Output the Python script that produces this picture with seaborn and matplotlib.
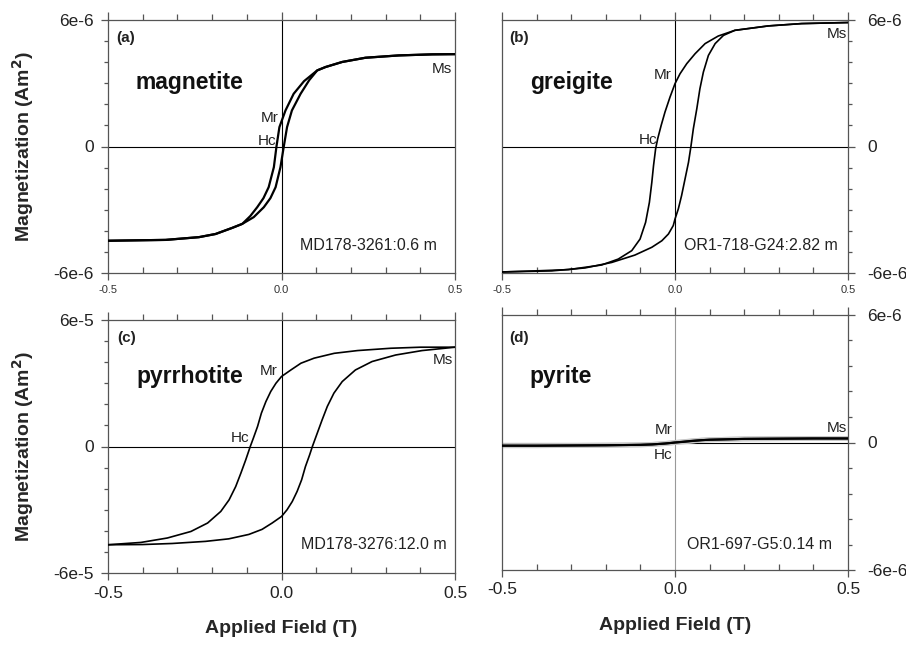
import numpy as np
import pandas as pd
import matplotlib
matplotlib.use("Agg")
import matplotlib.pyplot as plt
from matplotlib.ticker import MultipleLocator, FixedLocator
import seaborn as sns

# ---------------- data ----------------
# (a) magnetite, M in units of 1e-6 Am2
H_a_desc = [0.5, 0.434, 0.338, 0.242, 0.175, 0.127, 0.103, 0.065, 0.035, 0.0115, -0.006,
            -0.0145, -0.022, -0.037, -0.052, -0.07, -0.09, -0.113, -0.142, -0.19, -0.238,
            -0.334, -0.5]
M_a_desc = [4.38, 4.37, 4.32, 4.21, 4.01, 3.77, 3.61, 3.1, 2.5, 1.71, 0.92,
            0.0, -0.98, -1.93, -2.45, -2.88, -3.3, -3.67, -3.86, -4.15, -4.3,
            -4.43, -4.47]
H_a_asc = [-0.5, -0.334, -0.238, -0.19, -0.142, -0.113, -0.08, -0.051, -0.032, -0.017,
           -0.003, 0.0066, 0.016, 0.03, 0.055, 0.08, 0.103, 0.127, 0.175, 0.242, 0.338,
           0.434, 0.5]
M_a_asc = [-4.47, -4.43, -4.3, -4.15, -3.86, -3.67, -3.35, -2.88, -2.45, -1.93,
           -0.98, 0.0, 0.92, 1.71, 2.5, 3.15, 3.61, 3.77, 4.01, 4.21, 4.32,
           4.37, 4.38]

# (b) greigite, M in units of 1e-6 Am2
H_b_desc = [0.5, 0.366, 0.27, 0.173, 0.125, 0.087, 0.058, 0.034, 0.0145, 0.0, -0.0145,
            -0.029, -0.04, -0.05, -0.056, -0.062, -0.067, -0.074, -0.085, -0.101, -0.125,
            -0.164, -0.212, -0.308, -0.404, -0.5]
M_b_desc = [5.88, 5.83, 5.72, 5.51, 5.24, 4.88, 4.40, 3.93, 3.45, 2.98, 2.34,
            1.63, 1.0, 0.37, -0.11, -0.9, -1.7, -2.65, -3.6, -4.39, -4.94,
            -5.34, -5.62, -5.84, -5.9, -5.95]
H_b_asc = [-0.5, -0.356, -0.26, -0.183, -0.116, -0.067, -0.038, -0.019, -0.005, 0.0,
           0.0096, 0.019, 0.029, 0.039, 0.046, 0.053, 0.063, 0.072, 0.082, 0.0965, 0.116,
           0.14, 0.173, 0.27, 0.366, 0.5]
M_b_asc = [-5.95, -5.9, -5.76, -5.5, -5.15, -4.78, -4.47, -4.15, -3.75, -3.44,
           -2.96, -2.33, -1.54, -0.75, 0.0, 0.84, 1.79, 2.74, 3.53, 4.32, 4.88,
           5.27, 5.51, 5.72, 5.83, 5.88]

# (c) pyrrhotite, M in units of 1e-5 Am2
H_c_desc = [0.5, 0.401, 0.315, 0.219, 0.152, 0.094, 0.056, 0.027, 0.0, -0.016, -0.031,
            -0.045, -0.058, -0.069, -0.081, -0.09, -0.103, -0.117, -0.132, -0.151, -0.175,
            -0.213, -0.261, -0.329, -0.405, -0.5]
M_c_desc = [4.71, 4.71, 4.66, 4.55, 4.42, 4.19, 3.95, 3.63, 3.32, 3.0, 2.61,
            2.13, 1.58, 0.95, 0.40, 0.0, -0.63, -1.26, -1.9, -2.53, -3.08,
            -3.63, -4.03, -4.34, -4.55, -4.66]
H_c_asc = [-0.5, -0.401, -0.315, -0.219, -0.152, -0.094, -0.056, -0.027, 0.0, 0.016, 0.031,
           0.045, 0.058, 0.069, 0.081, 0.089, 0.103, 0.117, 0.132, 0.151, 0.175,
           0.213, 0.261, 0.329, 0.405, 0.5]
M_c_asc = [-4.66, -4.65, -4.6, -4.5, -4.38, -4.17, -3.93, -3.63, -3.32, -3.0, -2.61,
           -2.13, -1.58, -0.95, -0.40, 0.0, 0.63, 1.26, 1.9, 2.53, 3.08,
           3.63, 4.03, 4.34, 4.55, 4.71]

# (d) pyrite, M in units of 1e-6 Am2
H_d_desc = [0.5, 0.4, 0.3, 0.2, 0.15, 0.1, 0.077, 0.05, 0.025, 0.0, -0.03, -0.066, -0.1,
            -0.2, -0.3, -0.4, -0.5]
M_d_desc = [0.19, 0.19, 0.18, 0.17, 0.15, 0.13, 0.11, 0.07, 0.03, 0.0, -0.05, -0.09, -0.11,
            -0.13, -0.14, -0.15, -0.15]
H_d_asc = [-0.5, -0.4, -0.3, -0.2, -0.1, -0.066, -0.03, -0.01, 0.0, 0.025, 0.05, 0.077, 0.1,
           0.15, 0.2, 0.3, 0.4, 0.5]
M_d_asc = [-0.15, -0.15, -0.14, -0.13, -0.11, -0.09, -0.05, -0.02, 0.0, 0.04, 0.08, 0.11, 0.13,
           0.15, 0.17, 0.18, 0.19, 0.19]

panel_letters = ["(a)", "(b)", "(c)", "(d)"]
minerals = ["magnetite", "greigite", "pyrrhotite", "pyrite"]
sample_ids = ["MD178-3261:0.6 m", "OR1-718-G24:2.82 m", "MD178-3276:12.0 m", "OR1-697-G5:0.14 m"]
units = [1e-6, 1e-6, 1e-5, 1e-6]
ytick_labels = [["-6e-6", "0", "6e-6"], ["-6e-6", "0", "6e-6"],
                ["-6e-5", "0", "6e-5"], ["-6e-6", "0", "6e-6"]]
xtick_labels = ["-0.5", "0.0", "0.5"]

# ---------------- style ----------------
sns.set_theme(style="ticks")
plt.rcParams["font.family"] = ["Liberation Sans", "DejaVu Sans"]
plt.rcParams["axes.linewidth"] = 0.9
plt.rcParams["axes.edgecolor"] = "#555555"
plt.rcParams["xtick.color"] = "#555555"
plt.rcParams["ytick.color"] = "#555555"
plt.rcParams["lines.solid_joinstyle"] = "round"

fig = plt.figure(figsize=(9.06, 6.45), dpi=100)
rects = [
    [108 / 906, 1 - 273 / 645, 347 / 906, 253 / 645],
    [502 / 906, 1 - 273 / 645, 346 / 906, 253 / 645],
    [108 / 906, 1 - 573 / 645, 347 / 906, 253 / 645],
    [502 / 906, 1 - 570 / 645, 346 / 906, 255 / 645],
]

branches = [
    (H_a_desc, M_a_desc, H_a_asc, M_a_asc),
    (H_b_desc, M_b_desc, H_b_asc, M_b_asc),
    (H_c_desc, M_c_desc, H_c_asc, M_c_asc),
    (H_d_desc, M_d_desc, H_d_asc, M_d_asc),
]

# label positions (data units: H, M/unit)
txt = {
    0: dict(letter=(-0.475, 5.13), name=(-0.42, 3.04), mr=(-0.008, 1.33), hc=(-0.014, 0.24),
            ms=(0.49, 3.66), sid=(0.447, -4.7)),
    1: dict(letter=(-0.478, 5.13), name=(-0.42, 3.04), mr=(-0.01, 3.37), hc=(-0.05, 0.33),
            ms=(0.496, 5.32), sid=(0.47, -4.7)),
    2: dict(letter=(-0.473, 5.15), name=(-0.418, 3.3), mr=(-0.012, 3.59), hc=(-0.092, 0.41),
            ms=(0.493, 4.11), sid=(0.476, -4.66)),
    3: dict(letter=(-0.478, 4.93), name=(-0.42, 3.09), mr=(-0.007, 0.6), hc=(-0.007, -0.58),
            ms=(0.496, 0.69), sid=(0.455, -4.81)),
}

lw_curve = [1.6, 1.2, 1.2, 1.5]

for i in range(4):
    ax = fig.add_axes(rects[i])
    u = units[i]
    Hd, Md, Ha, Ma = branches[i]
    df = pd.DataFrame({
        "H": list(Hd) + list(Ha),
        "M": [m * u for m in Md] + [m * u for m in Ma],
        "branch": ["desc"] * len(Hd) + ["asc"] * len(Ha),
    })
    ax.axhline(0, color="black", lw=0.8, zorder=1)
    ax.axvline(0, color="#999999" if i == 3 else "black", lw=0.8, zorder=1)
    if i == 3:
        sns.lineplot(data=df, x="H", y="M", units="branch", estimator=None, sort=False,
                     color="#c8c8c8", lw=3.5, ax=ax, zorder=2)
    sns.lineplot(data=df, x="H", y="M", units="branch", estimator=None, sort=False,
                 color="black", lw=lw_curve[i], ax=ax, zorder=3)

    ax.set_xlim(-0.5, 0.5)
    ax.set_ylim(-6 * u, 6 * u)
    ax.set_xlabel("")
    ax.set_ylabel("")

    # x ticks
    ax.set_xticks([-0.5, 0.0, 0.5])
    ax.xaxis.set_minor_locator(MultipleLocator(0.1))
    if i < 2:
        ax.set_xticklabels(xtick_labels, fontsize=8, color="#333333")
    else:
        ax.set_xticklabels(xtick_labels, fontsize=12.5, color="#222222")
    ax.tick_params(axis="x", which="major", direction="out", length=5, width=0.9, pad=4)
    ax.tick_params(axis="x", which="minor", direction="in", length=4, width=0.9)
    sec = ax.secondary_xaxis("top")
    sec.set_xticks([-0.5, 0.0, 0.5])
    sec.xaxis.set_minor_locator(MultipleLocator(0.1))
    sec.tick_params(which="major", direction="out", length=6, width=0.9, labeltop=False)
    sec.tick_params(which="minor", direction="out", length=4, width=0.9)
    sec.set_xticklabels([])
    sec.spines["top"].set_visible(False)

    # y ticks
    ax.set_yticks([-6 * u, 0, 6 * u])
    ax.set_yticklabels(ytick_labels[i], fontsize=12.5, color="#222222")
    step = 1.2 * u if i == 3 else 1.0 * u
    ax.yaxis.set_minor_locator(FixedLocator(np.arange(-6 * u, 6 * u + step / 2, step)))
    if i in (1, 3):
        ax.yaxis.tick_right()
        ax.tick_params(axis="y", which="both", left=False, right=True, labelright=True,
                       labelleft=False)
        ax.tick_params(axis="y", which="major", pad=9)
    else:
        ax.tick_params(axis="y", which="major", pad=5)
    ax.tick_params(axis="y", which="major", direction="out", length=5, width=0.9)
    ax.tick_params(axis="y", which="minor", direction="out", length=3, width=0.9)

    t = txt[i]
    ax.text(t["letter"][0], t["letter"][1] * u, panel_letters[i], fontsize=11,
            fontweight="bold", ha="left", va="center", color="#222222")
    ax.text(t["name"][0], t["name"][1] * u, minerals[i], fontsize=16.5,
            fontweight="bold", ha="left", va="center", color="#111111")
    ax.text(t["mr"][0], t["mr"][1] * u, "Mr", fontsize=11, ha="right", va="center",
            color="#222222")
    ax.text(t["hc"][0], t["hc"][1] * u, "Hc", fontsize=11, ha="right", va="center",
            color="#222222")
    ax.text(t["ms"][0], t["ms"][1] * u, "Ms", fontsize=11, ha="right", va="center",
            color="#222222")
    ax.text(t["sid"][0], t["sid"][1] * u, sample_ids[i], fontsize=11.5, ha="right",
            va="center", color="#222222")

    if i in (0, 2):
        ax.set_ylabel("Magnetization (Am$^\\mathbf{2}$)", fontsize=14, fontweight="bold",
                      labelpad=13)
    if i in (2, 3):
        ax.set_xlabel("Applied Field (T)", fontsize=14, fontweight="bold", labelpad=14)

fig.savefig("out.png", dpi=100)
